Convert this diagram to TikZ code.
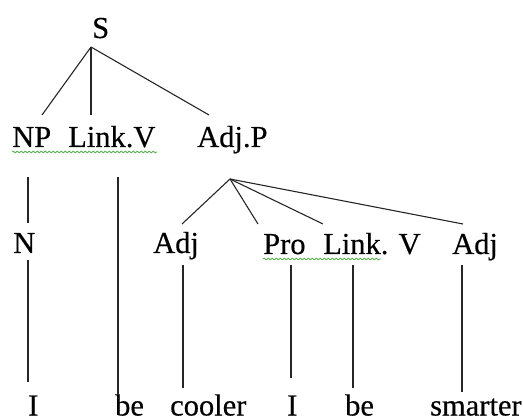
\documentclass[tikz,border=0pt]{standalone}
\usepackage{fontspec}
\setmainfont{Liberation Serif}[FakeBold=0.4]
\usetikzlibrary{decorations.pathmorphing}
\definecolor{spellgreen}{RGB}{90,175,80}
\tikzset{
  lbl/.style={anchor=base west, inner sep=0pt, font=\fontsize{30.5}{32}\selectfont},
  edge/.style={line width=1.1pt, draw=black!85},
  squiggle/.style={draw=spellgreen, line width=0.8pt, decorate,
    decoration={snake, amplitude=0.9pt, segment length=4pt}}
}
\begin{document}
\begin{tikzpicture}[x=1pt,y=-1pt]
\useasboundingbox (0,0) rectangle (523,417);
% labels
\node[lbl] (S) at (92,38) {S};
\node[lbl] (NP) at (12,147) {NP};
\node[lbl] (LinkV) at (68,147) {Link.V};
\node[lbl] (AdjP) at (197,147) {Adj.P};
\node[lbl] (N) at (13,253) {N};
\node[lbl] (AdjA) at (153,253) {Adj};
\node[lbl] (Pro) at (263,254) {Pro};
\node[lbl] (LinkB) at (323,254) {Link. V};
\node[lbl] (AdjB) at (452,254) {Adj};
\node[lbl] (I1) at (28,415.5) {I};
\node[lbl] (be1) at (115,415.5) {be};
\node[lbl] (cooler) at (170,415.5) {cooler};
\node[lbl] (I2) at (287,415.5) {I};
\node[lbl] (be2) at (345,415.5) {be};
\node[lbl] (smarter) at (430,415.5) {smarter};
% connector points
\coordinate (Sr) at (91,47);
\coordinate (NPt) at (42,115);
\coordinate (LVt) at (91,115);
\coordinate (APt) at (209,115);
\coordinate (NPb) at (28,177);
\coordinate (Nt) at (28,223);
\coordinate (Nb) at (28,260);
\coordinate (I1t) at (28,382);
\coordinate (LVb) at (118,177);
\coordinate (be1t) at (118,395);
\coordinate (Ar) at (230,179);
\coordinate (AdjAt) at (182,224);
\coordinate (Prot) at (258,224);
\coordinate (LBt) at (323,224);
\coordinate (AdjBt) at (463,224);
\coordinate (AdjAb) at (183,265);
\coordinate (coolt) at (183,388);
\coordinate (Prob) at (291,265);
\coordinate (I2t) at (291,378);
\coordinate (LBb) at (353,265);
\coordinate (be2t) at (353,388);
\coordinate (AdjBb) at (462,265);
\coordinate (smt) at (462,392);
% edges
\draw[edge] (Sr) -- (NPt);
\draw[edge] (Sr) -- (LVt);
\draw[edge] (Sr) -- (APt);
\draw[edge] (NPb) -- (Nt);
\draw[edge] (Nb) -- (I1t);
\draw[edge] (LVb) -- (be1t);
\draw[edge] (Ar) -- (AdjAt);
\draw[edge] (Ar) -- (Prot);
\draw[edge] (Ar) -- (LBt);
\draw[edge] (Ar) -- (AdjBt);
\draw[edge] (AdjAb) -- (coolt);
\draw[edge] (Prob) -- (I2t);
\draw[edge] (LBb) -- (be2t);
\draw[edge] (AdjBb) -- (smt);
% spell-check underlines
\draw[squiggle] (12,152) -- (157,152);
\draw[squiggle] (263,259) -- (381,259);
\end{tikzpicture}
\end{document}
